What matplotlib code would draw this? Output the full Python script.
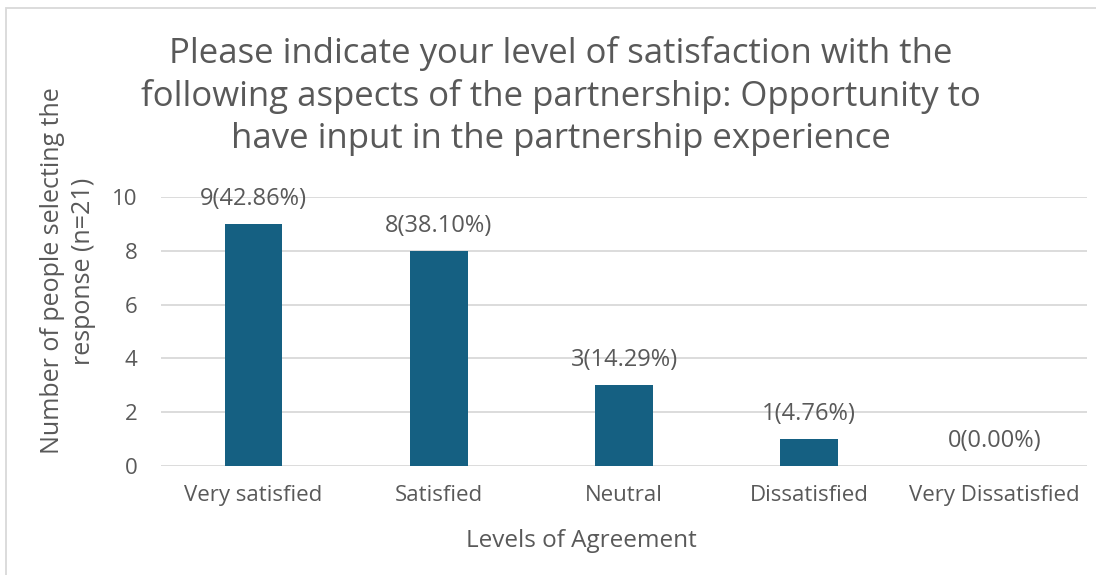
import matplotlib
matplotlib.use("Agg")
import matplotlib.pyplot as plt
from matplotlib.patches import Rectangle

categories = ["Very satisfied", "Satisfied", "Neutral", "Dissatisfied", "Very Dissatisfied"]
counts = [9, 8, 3, 1, 0]
labels = ["9(42.86%)", "8(38.10%)", "3(14.29%)", "1(4.76%)", "0(0.00%)"]
yticks = [0, 2, 4, 6, 8, 10]

title = ("Please indicate your level of satisfaction with the\n"
         "following aspects of the partnership: Opportunity to\n"
         "have input in the partnership experience")

plt.rcParams['font.family'] = ['Open Sans', 'DejaVu Sans']
text_color = "#595959"
bar_color = "#156082"
grid_color = "#D9D9D9"

W, H = 1096, 575
fig = plt.figure(figsize=(W / 100, H / 100), dpi=100)
ax = fig.add_axes([161 / W, 1 - 465.7 / H, (1087 - 161) / W, (465.7 - 197.3) / H])

x = list(range(len(categories)))
bars = ax.bar(x, counts, width=0.31, color=bar_color, zorder=3)
ax.set_xlim(-0.5, len(categories) - 0.5)
ax.set_ylim(0, 10)
ax.set_yticks(yticks)
ax.set_yticklabels([str(t) for t in yticks])
ax.set_xticks(x)
ax.set_xticklabels(categories)
ax.tick_params(axis='both', length=0, labelsize=16, colors=text_color)
ax.tick_params(axis='x', pad=14)
ax.tick_params(axis='y', pad=17)
ax.yaxis.grid(True, color=grid_color, linewidth=1.3, zorder=0)
for s in ax.spines.values():
    s.set_visible(False)

for xi, c, lab in zip(x, counts, labels):
    ax.annotate(lab, (xi, c), xytext=(0, 18), textcoords='offset points',
                ha='center', va='center', fontsize=17, color=text_color)

fig.text(581 / W, 1 - 541 / H, "Levels of Agreement", ha='center', va='center',
         fontsize=17.5, color=text_color)
fig.text(68 / W, 1 - 271 / H, "Number of people selecting the\nresponse (n=21)",
         ha='center', va='center', rotation=90, fontsize=18,
         color=text_color, linespacing=1.35)

fig.text(561 / W, 1 - 96 / H, title, ha='center', va='center', fontsize=25,
         color=text_color, linespacing=1.31)

fig.patches.append(Rectangle((6 / W, -0.1), 1.2, 1 - 8 / H + 0.1, transform=fig.transFigure,
                             fill=False, edgecolor=grid_color, linewidth=1.3))

fig.savefig("out.png", dpi=100, facecolor="white")
